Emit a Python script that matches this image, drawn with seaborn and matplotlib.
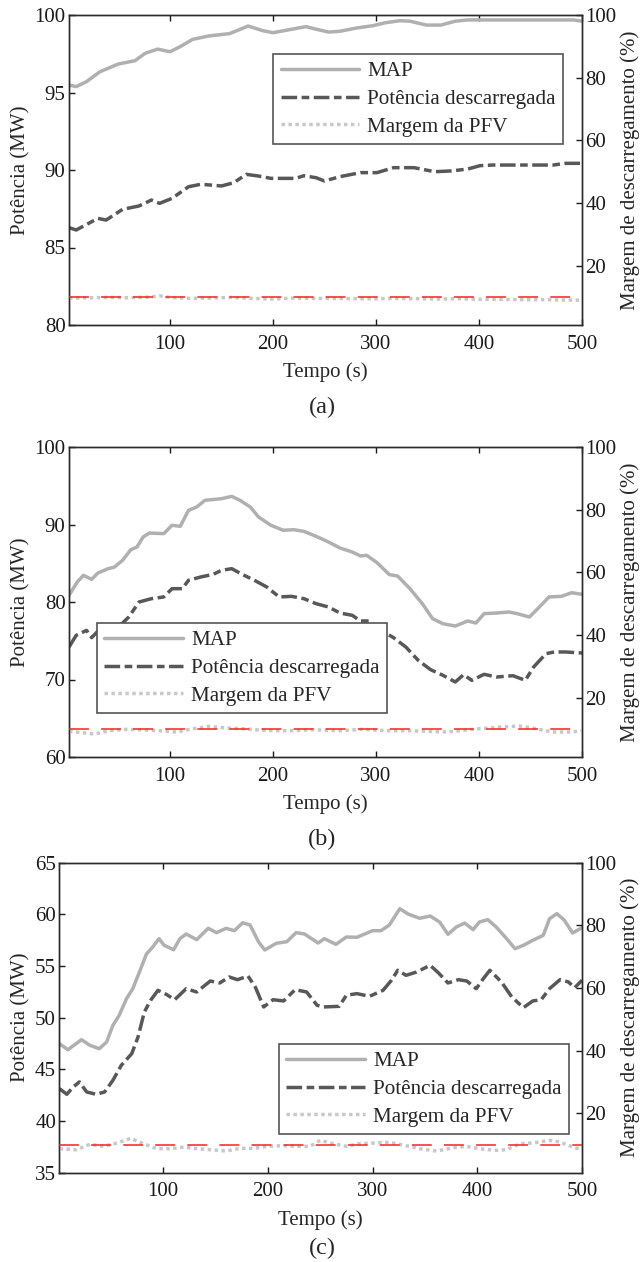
import matplotlib
matplotlib.use("Agg")
import matplotlib.pyplot as plt
import seaborn as sns

# ---------------- data ----------------
# Panel (a)
t_map_a = [2, 9, 19, 32, 50, 66, 76, 88, 100, 110, 122, 138, 158, 176, 190, 200, 214, 232, 242, 254,
           265, 281, 297, 309, 323, 333, 349, 363, 377, 389, 413, 492, 500]
map_a = [95.48, 95.38, 95.7, 96.34, 96.84, 97.05, 97.53, 97.8, 97.63, 97.96, 98.43, 98.65, 98.8, 99.29,
         98.99, 98.86, 99.03, 99.25, 99.08, 98.9, 98.95, 99.16, 99.31, 99.5, 99.63, 99.6, 99.35, 99.35,
         99.6, 99.68, 99.68, 99.68, 99.6]
t_pd_a = [2, 9, 20, 30, 38, 54, 70, 82, 90, 102, 118, 130, 150, 162, 174, 186, 198, 222, 230, 242, 250,
          265, 285, 301, 317, 337, 357, 373, 389, 401, 413, 472, 484, 500]
pd_a = [86.28, 86.13, 86.52, 86.88, 86.77, 87.46, 87.68, 88.06, 87.85, 88.17, 88.92, 89.08, 88.97, 89.18,
        89.72, 89.61, 89.46, 89.46, 89.63, 89.5, 89.29, 89.57, 89.83, 89.83, 90.15, 90.15, 89.89, 89.94,
        90.06, 90.28, 90.32, 90.32, 90.43, 90.43]
t_mg_a = [2, 20, 40, 60, 80, 90, 100, 120, 140, 160, 180, 200, 220, 240, 260, 280, 300, 320, 340, 360,
          380, 400, 420, 440, 460, 480, 500]
mg_a = [9.6, 9.7, 9.8, 9.7, 9.9, 10.3, 9.8, 9.5, 9.6, 9.8, 9.5, 9.3, 9.6, 9.5, 9.5, 9.4, 9.4, 9.5, 9.4,
        9.3, 9.4, 9.2, 9.2, 9.1, 9.1, 9.0, 8.9]

# Panel (b)
t_map_b = [2, 10, 16, 24, 30, 40, 46, 54, 62, 68, 74, 80, 94, 102, 110, 118, 126, 134, 150, 160, 168,
           178, 186, 198, 210, 220, 230, 242, 254, 265, 277, 285, 291, 301, 313, 321, 333, 345, 355, 365,
           377, 389, 397, 405, 417, 429, 437, 449, 457, 468, 480, 490, 500]
map_b = [80.86, 82.58, 83.44, 82.92, 83.74, 84.3, 84.5, 85.38, 86.75, 87.1, 88.39, 88.9, 88.82, 89.9,
         89.76, 91.83, 92.26, 93.12, 93.33, 93.63, 93.12, 92.26, 90.97, 89.9, 89.25, 89.33, 89.12, 88.47,
         87.74, 86.97, 86.45, 85.94, 86.02, 85.08, 83.53, 83.35, 81.72, 79.78, 77.85, 77.2, 76.9, 77.55,
         77.29, 78.5, 78.58, 78.71, 78.5, 78.06, 79.14, 80.65, 80.73, 81.2, 80.99]
t_pd_b = [2, 9, 19, 24, 32, 42, 50, 60, 70, 82, 94, 102, 112, 118, 130, 142, 150, 160, 170, 182, 194,
          206, 218, 230, 242, 254, 265, 277, 285, 293, 305, 317, 329, 341, 353, 365, 377, 385, 393, 405,
          417, 433, 445, 453, 465, 473, 484, 500]
pd_b = [74.19, 75.7, 76.34, 75.4, 76.52, 76.34, 76.77, 78.06, 80.0, 80.43, 80.65, 81.72, 81.72, 82.8,
        83.23, 83.57, 84.09, 84.3, 83.57, 82.8, 81.94, 80.65, 80.73, 80.43, 79.78, 79.35, 78.58, 78.28,
        77.55, 77.55, 76.34, 75.4, 74.19, 72.47, 71.27, 70.54, 69.68, 70.62, 69.89, 70.67, 70.32, 70.49,
        69.89, 71.61, 73.33, 73.55, 73.55, 73.42]
t_mg_b = [2, 27, 41, 58, 77, 90, 106, 119, 138, 155, 170, 187, 203, 219, 238, 264, 287, 310, 330, 352,
          369, 381, 401, 420, 439, 452, 471, 490, 500]
mg_b = [9.19, 8.34, 9.40, 9.83, 9.61, 9.40, 8.98, 9.83, 10.78, 10.25, 10.04, 9.61, 9.40, 9.40, 9.72,
        9.40, 9.83, 9.40, 9.40, 9.19, 8.98, 9.40, 10.04, 10.57, 10.89, 10.25, 8.98, 8.98, 9.40]

# Panel (c)
t_map_c = [1, 9, 22, 30, 39, 46, 52, 58, 65, 71, 78, 84, 90, 96, 101, 110, 116, 122, 132, 143, 151, 160,
           168, 176, 183, 191, 197, 208, 218, 227, 235, 248, 254, 265, 275, 285, 300, 308, 316, 326, 334,
           345, 355, 364, 372, 380, 388, 396, 402, 410, 418, 428, 436, 444, 453, 463, 469, 476, 483, 491,
           500]
map_c = [47.48, 46.9, 47.87, 47.33, 47.0, 47.65, 49.26, 50.23, 51.84, 52.81, 54.59, 56.16, 56.84, 57.65,
         57.0, 56.58, 57.65, 58.1, 57.55, 58.65, 58.23, 58.65, 58.42, 59.19, 58.97, 57.35, 56.55, 57.2,
         57.35, 58.23, 58.1, 57.23, 57.65, 57.1, 57.81, 57.78, 58.42, 58.42, 58.97, 60.55, 60.03, 59.62,
         59.84, 59.26, 58.07, 58.78, 59.16, 58.52, 59.26, 59.49, 58.78, 57.65, 56.68, 57.0, 57.49, 57.97,
         59.58, 60.07, 59.45, 58.2, 58.71]
t_pd_c = [1, 8, 14, 20, 27, 36, 44, 52, 60, 70, 76, 82, 88, 95, 103, 111, 122, 132, 145, 154, 163, 171,
          181, 188, 196, 205, 215, 226, 237, 247, 253, 268, 275, 285, 297, 310, 318, 324, 332, 342, 355,
          363, 372, 382, 390, 399, 406, 412, 423, 433, 444, 453, 461, 469, 479, 487, 493, 500]
pd_c = [43.13, 42.59, 43.29, 43.78, 42.81, 42.59, 42.81, 43.94, 45.39, 46.52, 48.13, 50.55, 51.68, 52.65,
        52.26, 51.74, 52.81, 52.49, 53.55, 53.36, 53.94, 53.68, 54.03, 52.97, 51.04, 51.74, 51.62, 52.71,
        52.49, 51.2, 51.04, 51.1, 52.17, 52.33, 52.07, 52.65, 53.62, 54.59, 54.1, 54.42, 55.07, 54.33,
        53.36, 53.68, 53.55, 52.81, 53.81, 54.59, 53.46, 52.0, 50.97, 51.62, 51.74, 52.81, 53.68, 53.46,
        52.9, 53.62]
t_mg_c = [1, 17, 30, 43, 56, 69, 81, 94, 107, 120, 132, 145, 160, 173, 186, 199, 215, 227, 240, 250, 262,
          275, 287, 303, 316, 332, 345, 361, 377, 390, 402, 418, 428, 441, 453, 469, 479, 491, 500]
mg_c = [8.66, 8.34, 10.06, 9.42, 10.48, 11.98, 10.27, 8.66, 8.66, 9.2, 8.66, 8.34, 7.92, 8.77, 8.77, 9.42,
        9.63, 9.42, 9.42, 11.33, 10.27, 9.42, 10.27, 10.48, 10.69, 9.63, 8.66, 7.92, 8.98, 9.42, 8.66, 8.13,
        8.34, 10.27, 10.48, 11.33, 10.8, 9.2, 8.34]

ref_margin = 10  # % reference line (red dashed)

series_labels = ["MAP", "Potência descarregada", "Margem da PFV"]
captions = ["(a)", "(b)", "(c)"]
x_ticks = [100, 200, 300, 400, 500]
right_ticks = [20, 40, 60, 80, 100]
left_ticks_a = [80, 85, 90, 95, 100]
left_ticks_b = [60, 70, 80, 90, 100]
left_ticks_c = [35, 40, 45, 50, 55, 60, 65]

# ---------------- style ----------------
sns.set_style("ticks")
plt.rcParams["font.family"] = ["Liberation Serif", "DejaVu Serif"]
plt.rcParams["axes.linewidth"] = 1.0

W, H = 644, 1262
fig = plt.figure(figsize=(W / 100, H / 100), dpi=100)


def rect(l, t, r, b):
    return [l / W, 1 - b / H, (r - l) / W, (b - t) / H]


C_MAP = "#b0b0b0"
C_PD = "#585858"
C_MG = "#c8c8c8"
C_REF = "#ff1f1f"
SPINE = "#2a2a2a"

panels = [
    dict(r=rect(69, 15, 582, 325), xlim=(2, 500), ylim=(80, 100), yt=left_ticks_a,
         t_map=t_map_a, v_map=map_a, t_pd=t_pd_a, v_pd=pd_a, t_mg=t_mg_a, v_mg=mg_a,
         leg=dict(loc="upper right", anchor=(0.963, 0.874)), cap_y=407),
    dict(r=rect(69, 447, 582, 757), xlim=(2, 500), ylim=(60, 100), yt=left_ticks_b,
         t_map=t_map_b, v_map=map_b, t_pd=t_pd_b, v_pd=pd_b, t_mg=t_mg_b, v_mg=mg_b,
         leg=dict(loc="upper left", anchor=(0.0546, 0.432)), cap_y=839),
    dict(r=rect(59.5, 862.7, 582, 1172.7), xlim=(1, 500), ylim=(35, 65), yt=left_ticks_c,
         t_map=t_map_c, v_map=map_c, t_pd=t_pd_c, v_pd=pd_c, t_mg=t_mg_c, v_mg=mg_c,
         leg=dict(loc="upper right", anchor=(0.975, 0.415)), cap_y=1248),
]

LW = 2.5
for i, p in enumerate(panels):
    ax = fig.add_axes(p["r"])
    ax2 = ax.twinx()

    sns.lineplot(x=p["t_map"], y=p["v_map"], ax=ax, color=C_MAP, lw=LW, errorbar=None,
                 label=series_labels[0], legend=False)
    h_map = ax.lines[-1]
    sns.lineplot(x=p["t_pd"], y=p["v_pd"], ax=ax, color=C_PD, lw=LW, errorbar=None,
                 linestyle=(0, (4.5, 1.3, 2.2, 1.3)), label=series_labels[1], legend=False)
    h_pd = ax.lines[-1]
    sns.lineplot(x=p["t_mg"], y=p["v_mg"], ax=ax2, color=C_MG, lw=LW, errorbar=None,
                 linestyle=(0, (1, 1)), label=series_labels[2], legend=False)
    h_mg = ax2.lines[-1]
    ax2.axhline(ref_margin, color=C_REF, lw=1.1, linestyle=(0, (13, 8)), zorder=3)

    ax.set_xlim(*p["xlim"])
    ax.set_ylim(*p["ylim"])
    ax.set_yticks(p["yt"])
    ax.set_xticks(x_ticks)
    ax2.set_ylim(1, 100)
    ax2.set_yticks(right_ticks)

    ax.set_xlabel("Tempo (s)", fontsize=15, labelpad=6.5)
    ax.set_ylabel("Potência (MW)", fontsize=15, labelpad=3)
    ax2.set_ylabel("Margem de descarregamento (%)", fontsize=15, labelpad=3)

    ax.tick_params(axis="x", direction="in", top=True, length=4.5, width=1, pad=7,
                   labelsize=15, colors="#1a1a1a")
    ax.tick_params(axis="y", direction="in", right=False, length=4.5, width=1, pad=2.5,
                   labelsize=15, colors="#1a1a1a")
    ax2.tick_params(axis="y", direction="in", length=4.5, width=1, pad=2.5,
                    labelsize=15, colors="#1a1a1a")
    for a in (ax, ax2):
        for s in a.spines.values():
            s.set_visible(True)
            s.set_color(SPINE)
            s.set_linewidth(1.0)

    leg = ax2.legend([h_map, h_pd, h_mg], series_labels, loc=p["leg"]["loc"],
                     bbox_to_anchor=p["leg"]["anchor"], borderaxespad=0, fontsize=15.2,
                     frameon=True, fancybox=False, framealpha=1, edgecolor="#555555",
                     handlelength=3.7, handletextpad=0.4, labelspacing=0.38,
                     borderpad=0.35)
    leg.get_frame().set_linewidth(1.2)
    leg.set_zorder(10)

    fig.text(322 / W, 1 - p["cap_y"] / H, captions[i], ha="center", va="center", fontsize=17.5)

fig.savefig("out.png", dpi=100)
